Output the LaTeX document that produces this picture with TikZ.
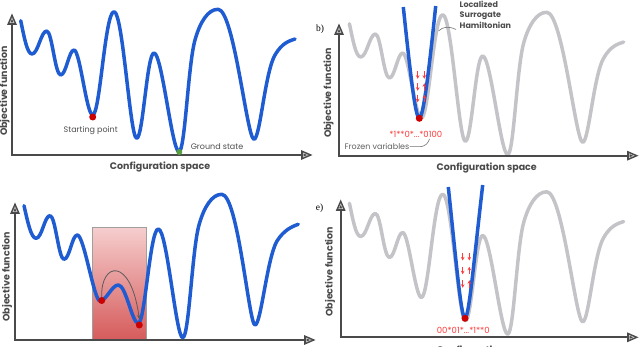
\documentclass[tikz,border=0pt]{standalone}
\usepackage{fontspec}
\setmainfont{Poppins}
\newfontfamily\panelfont{Liberation Serif}
\usetikzlibrary{arrows.meta}
\definecolor{cblue}{HTML}{1F5CD1}
\definecolor{cgray}{HTML}{C4C4C8}
\definecolor{axisc}{HTML}{4A4A4A}
\definecolor{txtc}{HTML}{4D4D4D}
\definecolor{dotred}{HTML}{CC0000}
\definecolor{dotgreen}{HTML}{5A9E3E}
\definecolor{redtxt}{HTML}{FF3B3B}
\definecolor{pinktop}{HTML}{F6CDCD}
\definecolor{pinkbot}{HTML}{D65C5C}
\def\landpath{(20.7,20.7) .. controls (24,36) and (27,54) .. (32,54)
 .. controls (38,54) and (41,31) .. (46.7,31)
 .. controls (52,31) and (55,75) .. (60.7,75)
 .. controls (66,75) and (69,50) .. (74,50)
 .. controls (80,50) and (86.5,115) .. (92.7,115)
 .. controls (100,115) and (105,11.7) .. (114,11.7)
 .. controls (123,11.7) and (130,138.3) .. (136.7,138.3)
 .. controls (143,138.3) and (147,53) .. (154,53)
 .. controls (162,53) and (172,151.7) .. (179,151.7)
 .. controls (185,151.7) and (188,65) .. (195,40)
 .. controls (200,22) and (208,9.3) .. (218,9.3)
 .. controls (234,9.3) and (247,139.3) .. (254,139.3)
 .. controls (260,139.3) and (265,72) .. (275,55)
 .. controls (282,43) and (289,41) .. (295,39)}
\tikzset{
  land/.style={line width=3.5pt, line cap=round, line join=round},
  axisline/.style={draw=axisc, line width=2pt},
  axhead/.pic={\fill[axisc] (0,-5) -- (11.5,0) -- (0,5) -- cycle;
               \draw[white!75!axisc, line width=0.5pt] (2.3,-2) -- (7,0) -- (2.3,2) -- cycle;},
  reddot/.style={circle, fill=dotred, minimum size=7pt, inner sep=0pt},
  greendot/.style={circle, fill=dotgreen, minimum size=6pt, inner sep=0pt},
  lbl/.style={text=txtc, font=\fontsize{8}{9.6}\selectfont, inner sep=0pt},
  axlbl/.style={text=axisc, font=\fontsize{9.5}{11}\selectfont\bfseries, inner sep=0pt},
  bits/.style={text=redtxt, font=\fontsize{8.5}{10}\selectfont, inner sep=0pt},
  spin/.style={draw=redtxt, line width=0.9pt, -{Stealth[length=3.6pt,width=3.6pt]}},
  leader/.style={draw=txtc!80, line width=0.6pt},
  paneltag/.style={font=\panelfont\fontsize{9.5}{11}\selectfont, inner sep=0pt},
}
\newcommand\spindn[2]{\draw[spin] (#1,#2-3.8) -- (#1,#2+3.8);}
\newcommand\spinup[2]{\draw[spin] (#1,#2+3.8) -- (#1,#2-3.8);}
\begin{document}
\begin{tikzpicture}[x=1pt,y=-1pt]
\useasboundingbox (0,0) rectangle (640,347);

% ================= Panel a =================
\coordinate (aO) at (12,155);
\coordinate (aY) at (12,25);
\coordinate (aX) at (301,155);
\draw[land, cblue] \landpath;
\draw[axisline] (aY) -- (aO) -- (aX);
\pic[rotate=90] at (aY) {axhead};
\pic at (aX) {axhead};
\node[reddot] (sp) at (92.7,117) {};
\node[greendot] (gs) at (179.3,152) {};
\node[lbl] (splbl) at (90.7,130.7) {Starting point};
\node[lbl] (gslbl) at (217,147) {Ground state};
\node[axlbl] (acfg) at (160,167) {Configuration space};
\node[axlbl, rotate=90] (aobj) at (4.5,91) {Objective function};

% ================= Panel b =================
\node[paneltag] (btag) at (320,29.5) {b)};
\coordinate (bO) at (339,155.7);
\coordinate (bY) at (339,35);
\coordinate (bX) at (627,155.7);
\begin{scope}[shift={(328.7,3)}]
\draw[land, cgray] \landpath;
\end{scope}
\draw[axisline] (bY) -- (bO) -- (bX);
\pic[rotate=90] at (bY) {axhead};
\pic at (bX) {axhead};
\draw[land, cblue, line cap=butt] (403.3,7) .. controls (411,80) and (415.5,118) .. (419.3,118)
   .. controls (423,118) and (428,80) .. (435.7,6);
\node[reddot] (bmin) at (419.3,118.3) {};
\spindn{417.7}{75}\spindn{417.7}{87}\spindn{417.7}{98.5}
\spindn{424.3}{75}\spinup{424.3}{87}\spinup{424.3}{98.5}
\node[bits] (bbits) at (415.8,134) {*1**0*...*0100};
\node[lbl, text=txtc!90] (fv) at (377,146.7) {Frozen variables};
\coordinate (fvend) at (429.5,139);
\draw[leader] (fv.east) -- ++(9,0) .. controls (426,146.7) and (428,143) .. (fvend);
\node[lbl, font=\fontsize{8}{10.6}\selectfont\bfseries, align=left, anchor=north west] (lsh) at (459.5,0.5) {Localized\\Surrogate\\Hamiltonian};
\coordinate (lshstart) at (438.5,31);
\draw[leader] (lshstart) .. controls (443,26.5) and (449,26) .. (456,29.5);
\node[axlbl] (bcfg) at (486.7,168.3) {Configuration space};
\node[axlbl, rotate=90] (bobj) at (328.5,93) {Objective function};

% ================= Panel d =================
\coordinate (dO) at (15,340);
\coordinate (dY) at (15,214);
\coordinate (dX) at (304,340);
\node[draw=gray!75, line width=0.7pt, top color=pinktop, bottom color=pinkbot,
      minimum width=53.3pt, minimum height=111.3pt, inner sep=0pt] (box) at (119.35,283.35) {};
\draw[land, cblue] (24,205.7) .. controls (27.5,221) and (31,238.3) .. (36,238.3)
 .. controls (42,238.3) and (44.5,215.7) .. (50,215.7)
 .. controls (55.5,215.7) and (58.5,259.3) .. (64,259.3)
 .. controls (69.5,259.3) and (72,235) .. (77.3,235)
 .. controls (84,235) and (94,301) .. (100,301)
 .. controls (106,301) and (112,285) .. (118.3,285)
 .. controls (126,285) and (132,323.3) .. (138.3,323.3)
 .. controls (145,323.3) and (150,229) .. (158.3,229)
 .. controls (167,229) and (176,337.7) .. (182.7,337.7)
 .. controls (189,337.7) and (192,250) .. (199,225)
 .. controls (204,207) and (212,194.3) .. (221.7,194.3)
 .. controls (238,194.3) and (249,325) .. (255,325)
 .. controls (261,325) and (267,258) .. (277,241)
 .. controls (284,230) and (292,226.5) .. (298.3,224.3);
\draw[axisline] (dY) -- (dO) -- (dX);
\pic[rotate=90] at (dY) {axhead};
\pic at (dX) {axhead};
\node[reddot] (d1) at (101.7,300.5) {};
\node[reddot] (d2) at (139.3,325) {};
\draw[draw=axisc!90, line width=0.8pt, -{Stealth[length=4.5pt,width=3.5pt]}]
  (d1.north) .. controls (100.5,262) and (131,256) .. ([yshift=2pt]d2.north);
\node[axlbl, rotate=90] (dobj) at (7,276.7) {Objective function};

% ================= Panel e =================
\node[paneltag] (etag) at (319.5,208.3) {e)};
\coordinate (eO) at (340.7,337.3);
\coordinate (eY) at (340.7,211);
\coordinate (eX) at (627,337.3);
\begin{scope}[shift={(328.7,182.5)}]
\draw[land, cgray] \landpath;
\end{scope}
\draw[axisline] (eY) -- (eO) -- (eX);
\pic[rotate=90] at (eY) {axhead};
\pic at (eX) {axhead};
\draw[land, cblue, line cap=butt] (448.3,187) .. controls (456,260) and (461,318) .. (465,318)
   .. controls (469,318) and (474,260) .. (482.7,185);
\node[reddot] (emin) at (465,318.3) {};
\spindn{462.7}{256.7}\spindn{462.7}{270.5}\spindn{462.7}{284}
\spindn{469.3}{256.7}\spinup{469.3}{270.5}\spinup{469.3}{284}
\node[bits] (ebits) at (463.3,330.7) {00*01*...*1**0};
\node[axlbl] (ecfg) at (486.7,351) {Configuration space};
\node[axlbl, rotate=90] (eobj) at (330,271.7) {Objective function};
\end{tikzpicture}
\end{document}
